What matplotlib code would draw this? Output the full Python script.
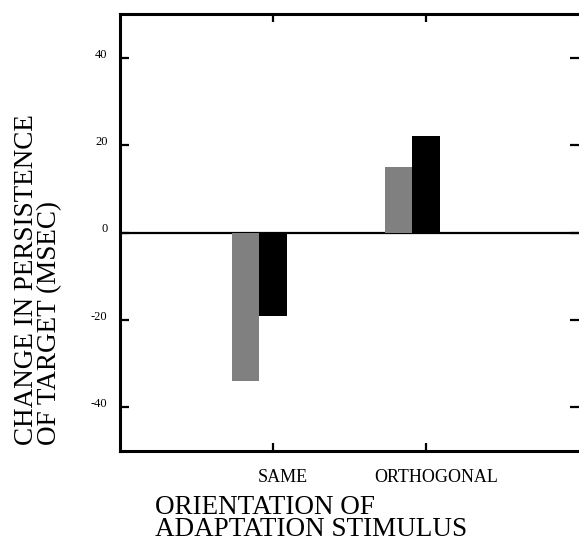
import matplotlib.pyplot as plt
import matplotlib.transforms as mtransforms
import numpy as np

# data
categories = ["SAME", "ORTHOGONAL"]
gray_values = [-34, 15]
black_values = [-19, 22]
y_ticks = [-40, -20, 0, 20, 40]


def main():
    plt.rcParams["font.family"] = ["Liberation Serif", "DejaVu Serif"]

    fig = plt.figure(figsize=(5.79, 5.44), dpi=100)
    ax = fig.add_axes([120 / 579, 1 - 451 / 544, 1 - 120 / 579, (451 - 14) / 544])

    x = np.arange(1, len(categories) + 1)
    width = 0.18

    ax.axhline(0, color="black", lw=1.6, zorder=1)
    ax.bar(x - width, gray_values, width, align="center", color="#808080",
           linewidth=0, zorder=2)
    ax.bar(x, black_values, width, align="center", color="black",
           linewidth=0, zorder=2)

    ax.set_xlim(0, 3)
    ax.set_ylim(-50, 50)

    for side in ["left", "top", "bottom"]:
        ax.spines[side].set_linewidth(2.2)
    ax.spines["right"].set_visible(False)

    ax.set_yticks(y_ticks)
    ax.set_yticklabels([str(v) for v in y_ticks])
    ax.tick_params(axis="y", direction="in", left=True, right=True,
                   length=6.5, width=1.6, labelsize=9, pad=9)
    for lab in ax.get_yticklabels():
        lab.set_verticalalignment("baseline")

    ax.set_xticks(x)
    ax.set_xticklabels(categories)
    ax.tick_params(axis="x", direction="in", top=True, bottom=True,
                   length=5.5, width=1.6, labelsize=13, pad=13)
    shift = mtransforms.ScaledTranslation(10 / 100, 0, fig.dpi_scale_trans)
    for lab in ax.get_xticklabels():
        lab.set_transform(lab.get_transform() + shift)

    fig.text(38 / 579, 1 - 445 / 544,
             "CHANGE IN PERSISTENCE\nOF TARGET (MSEC)",
             rotation=90, ha="center", va="bottom", multialignment="left",
             fontsize=19.5, linespacing=0.9)
    fig.text(155 / 579, 1 - 495 / 544,
             "ORIENTATION OF\nADAPTATION STIMULUS",
             ha="left", va="top", multialignment="left",
             fontsize=19.5, linespacing=0.86)

    fig.savefig("out.png", dpi=100)


if __name__ == "__main__":
    main()
